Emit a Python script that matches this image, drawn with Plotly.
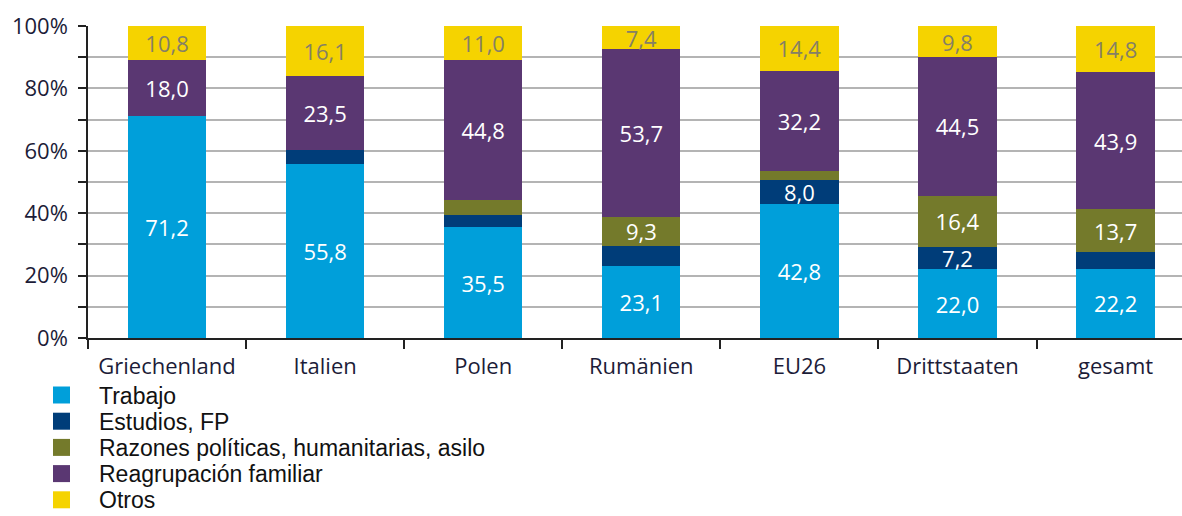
import plotly.graph_objects as go

categories = ["Griechenland", "Italien", "Polen", "Rumänien", "EU26", "Drittstaaten", "gesamt"]
trabajo = [71.2, 55.8, 35.5, 23.1, 42.8, 22.0, 22.2]
estudios = [0.0, 4.6, 4.0, 6.5, 8.0, 7.2, 5.4]
razones = [0.0, 0.0, 4.7, 9.3, 2.6, 16.4, 13.7]
reagrupacion = [18.0, 23.5, 44.8, 53.7, 32.2, 44.5, 43.9]
otros = [10.8, 16.1, 11.0, 7.4, 14.4, 9.8, 14.8]

series_names = ["Trabajo", "Estudios, FP", "Razones políticas, humanitarias, asilo",
                "Reagrupación familiar", "Otros"]
series_values = [trabajo, estudios, razones, reagrupacion, otros]
series_colors = ["#009FDA", "#003D79", "#747A2B", "#5A3772", "#F5D300"]
label_colors = ["white", "white", "white", "white", "#858065"]

W, H = 1182, 516
ML, MT, MB = 88, 26, 178
PW, PH = W - ML, H - MT - MB


def fmt(v):
    return f"{v:.1f}".replace(".", ",") if v >= 7 else ""


fig = go.Figure()
for name, vals, color, tcol in zip(series_names, series_values, series_colors, label_colors):
    fig.add_trace(go.Bar(
        x=categories, y=vals, name=name,
        marker=dict(color=color, line=dict(width=0)),
        text=[fmt(v) for v in vals],
        textposition="inside", insidetextanchor="middle", textangle=0,
        textfont=dict(color=tcol, size=22, family="Open Sans"),
        hoverinfo="skip", showlegend=False,
    ))

# manual legend (square + label), placed in paper coordinates
def px_to_paper(px, py):
    return (px - ML) / PW, (H - MB - py) / PH

for i, (name, color) in enumerate(zip(series_names, series_colors)):
    cy = 395 + 26.2 * i
    x0, y0 = px_to_paper(53, cy + 8.5)
    x1, y1 = px_to_paper(70, cy - 8.5)
    fig.add_shape(type="rect", xref="paper", yref="paper", x0=x0, y0=y0, x1=x1, y1=y1,
                  fillcolor=color, line=dict(width=0))
    tx, ty = px_to_paper(98, cy + 0.5)
    fig.add_annotation(xref="paper", yref="paper", x=tx, y=ty, xanchor="left", yanchor="middle",
                       text=name, showarrow=False, borderpad=0,
                       font=dict(family="Liberation Sans", size=23, color="#111111"))

yvals = list(range(0, 101, 10))
ytext = [f"{v}%" if v % 20 == 0 else "" for v in yvals]

fig.update_layout(
    barmode="stack",
    bargap=0.505,
    width=W, height=H,
    margin=dict(l=ML, r=0, t=MT, b=MB, autoexpand=False),
    plot_bgcolor="white", paper_bgcolor="white",
    uniformtext=dict(mode="show", minsize=22),
    font=dict(family="Open Sans", size=22, color="#1c1c38"),
    showlegend=False,
    xaxis=dict(
        range=[-0.5, 6.42], automargin=False,
        showline=True, linecolor="#222222", linewidth=1.5,
        ticks="outside", tickson="boundaries", ticklen=9, tickcolor="#222222", tickwidth=1.5,
        tickfont=dict(size=22, family="Open Sans", color="#1c1c38"),
        ticklabelstandoff=8,
        showgrid=False,
    ),
    yaxis=dict(
        range=[0, 100], automargin=False,
        tickvals=yvals, ticktext=ytext,
        showline=True, linecolor="#222222", linewidth=1.5,
        ticks="outside", ticklen=8, tickcolor="#222222", tickwidth=1.5,
        showgrid=True, gridcolor="#b4b4b4", gridwidth=1.5,
        tickfont=dict(size=22, family="Open Sans", color="#1c1c38"),
        ticklabelstandoff=6,
        zeroline=False,
    ),
)

fig.write_html("out.html", config={"displayModeBar": False},
               post_script="document.body.style.margin='0';")
